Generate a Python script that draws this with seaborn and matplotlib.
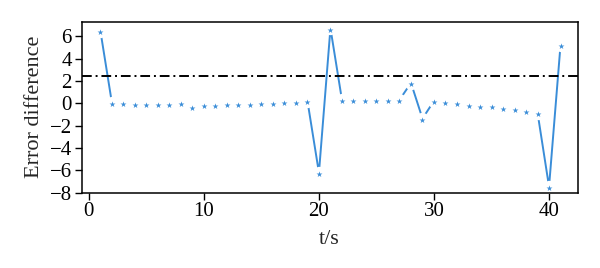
import numpy as np
import pandas as pd
import matplotlib
matplotlib.use("Agg")
import matplotlib.pyplot as plt
import matplotlib.transforms as mtransforms
import seaborn as sns

# ---- data ----
t_values = list(range(1, 42))
error_diff = [6.37, -0.07, -0.07, -0.16, -0.16, -0.13, -0.13, -0.07, -0.40, -0.25,
              -0.22, -0.13, -0.13, -0.13, -0.07, -0.07, 0.00, 0.00, 0.08, -6.35,
              6.58, 0.17, 0.22, 0.22, 0.17, 0.22, 0.17, 1.69, -1.50, 0.08,
              0.00, -0.10, -0.22, -0.30, -0.37, -0.49, -0.64, -0.82, -0.97, -7.60, 5.10]
threshold = 2.42
x_ticks = [0, 10, 20, 30, 40]
y_ticks = [6, 4, 2, 0, -2, -4, -6, -8]

df = pd.DataFrame({"t": t_values, "err": error_diff})

sns.set_style("ticks")
plt.rcParams["font.family"] = ["Liberation Serif", "DejaVu Serif"]

blue = "#3a8dd8"
fig = plt.figure(figsize=(6.0, 2.68), dpi=100)
ax = fig.add_axes([0.136, 0.281, 0.827, 0.638])

line_shift = mtransforms.offset_copy(ax.transData, fig=fig, x=0, y=1.5, units="dots")

sns.lineplot(data=df, x="t", y="err", ax=ax, color=blue, linewidth=1.4, zorder=2)
ax.lines[-1].set_transform(line_shift)

# white gaps around markers
ax.plot(df["t"], df["err"], linestyle="none", marker="o", markersize=9.6,
        markerfacecolor="white", markeredgewidth=0, transform=line_shift, zorder=3)

sns.scatterplot(data=df, x="t", y="err", ax=ax, marker="*", s=20, color=blue,
                linewidth=0, zorder=4)

ax.axhline(threshold, color="black", linewidth=1.4,
           linestyle=(0, (5, 2, 1, 2)), zorder=5)

ax.set_xlim(-0.63, 42.5)
ax.set_ylim(-8, 7.3)
ax.set_xticks(x_ticks)
ax.set_yticks(y_ticks)
ax.tick_params(direction="out", length=5, width=1, labelsize=15, colors="black", pad=2)
for s in ax.spines.values():
    s.set_visible(True)
    s.set_color("black")
    s.set_linewidth(1.1)
    s.set_zorder(6)

ax.set_xlabel("t/s", fontsize=16, labelpad=6)
ax.set_ylabel("Error difference", fontsize=16, labelpad=4)

fig.savefig("out.png", dpi=100, facecolor="white")
